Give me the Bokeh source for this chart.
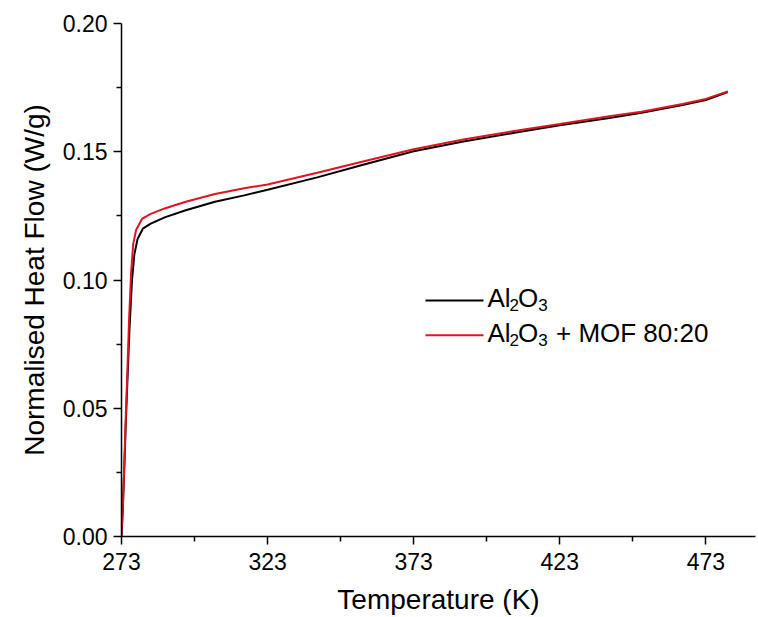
from bokeh.plotting import figure
from bokeh.models import FixedTicker, NumeralTickFormatter, Range1d, Label
from bokeh.embed import file_html
from bokeh.resources import INLINE

# Data
temp_al2o3 = [273.0, 273.5, 274.0, 274.5, 275.0, 275.7, 276.6, 277.4, 278.5, 280.3, 283.0,
              288.0, 295.0, 305.0, 315.0, 323.0, 340.0, 356.0, 373.0, 390.0, 408.0, 423.0,
              440.0, 451.0, 465.0, 473.0, 480.5]
hf_al2o3 = [0.000, 0.012, 0.028, 0.045, 0.060, 0.080, 0.100, 0.110, 0.1160, 0.1200, 0.1220,
            0.1245, 0.1272, 0.1305, 0.1330, 0.1352, 0.1400, 0.1450, 0.1502, 0.1540, 0.1575,
            0.1603, 0.1632, 0.1652, 0.1682, 0.1702, 0.1733]
temp_mof = [273.0, 273.5, 274.0, 274.5, 275.0, 275.6, 276.3, 277.0, 278.0, 280.0, 283.0,
            288.0, 295.0, 305.0, 315.0, 323.0, 340.0, 356.0, 373.0, 390.0, 408.0, 423.0,
            440.0, 451.0, 465.0, 473.0, 480.5]
hf_mof = [0.000, 0.013, 0.030, 0.048, 0.064, 0.085, 0.103, 0.114, 0.1195, 0.1238, 0.1258,
          0.1280, 0.1305, 0.1335, 0.1358, 0.1372, 0.1418, 0.1463, 0.1510, 0.1548, 0.1582,
          0.1608, 0.1638, 0.1656, 0.1686, 0.1706, 0.1735]

x_major = [273, 323, 373, 423, 473]
x_minor = [298, 348, 398, 448]
y_major = [0.00, 0.05, 0.10, 0.15, 0.20]
y_minor = [0.025, 0.075, 0.125, 0.175]
# legend text pieces: (text, is_subscript)
legend_al2o3 = [("Al", False), ("2", True), ("O", False), ("3", True)]
legend_mof = legend_al2o3 + [("+ MOF 80:20", False)]

FONT = "Liberation Sans"
W, H = 758, 617
BL, BR, BT, BB = 121, 3, 23, 79
X0, X1, Y0, Y1 = 273, 490, 0.0, 0.20
FW, FH = W - BL - BR, H - BT - BB


def px_to_x(px):
    return X0 + (px - BL) * (X1 - X0) / FW


def py_to_y(py):
    return Y0 + (H - BB - py) * (Y1 - Y0) / FH


p = figure(width=W, height=H, output_backend="svg", toolbar_location=None,
           x_range=Range1d(X0, X1), y_range=Range1d(Y0, Y1),
           min_border_left=BL, min_border_right=BR, min_border_top=BT, min_border_bottom=BB)
p.outline_line_color = None
p.grid.visible = False
p.background_fill_color = "white"
p.border_fill_color = "white"

p.line(temp_al2o3, hf_al2o3, line_color="black", line_width=2)
p.line(temp_mof, hf_mof, line_color="#e0141e", line_width=2)

p.xaxis.ticker = FixedTicker(ticks=x_major, minor_ticks=x_minor)
p.yaxis.ticker = FixedTicker(ticks=y_major, minor_ticks=y_minor)
p.yaxis.formatter = NumeralTickFormatter(format="0.00")

for ax in (p.xaxis, p.yaxis):
    ax.axis_line_width = 1.5
    ax.axis_line_color = "black"
    ax.major_tick_line_width = 1.5
    ax.minor_tick_line_width = 1.5
    ax.major_tick_in = 0
    ax.major_tick_out = 8
    ax.minor_tick_in = 0
    ax.minor_tick_out = 5
    ax.major_label_text_font = FONT
    ax.major_label_text_font_size = "23px"
    ax.major_label_text_color = "black"
    ax.axis_label_text_font = FONT
    ax.axis_label_text_font_size = "28px"
    ax.axis_label_text_font_style = "normal"
    ax.axis_label_text_color = "black"

p.xaxis.major_label_standoff = 8
p.yaxis.major_label_standoff = 6
p.xaxis.axis_label = "Temperature (K)"
p.yaxis.axis_label = "Normalised Heat Flow (W/g)"
p.xaxis.axis_label_standoff = 11
p.yaxis.axis_label_standoff = 10

# manual legend (to allow real subscripts)
MAIN, SUB = 26, 17
adv = {"Al": 0.889 * MAIN - 1, "O": 0.778 * MAIN, "2": 0.556 * SUB - 1, "3": 0.556 * SUB + 0.278 * MAIN + 1}
rows = [(legend_al2o3, "black", 301), (legend_mof, "#e0141e", 336)]
for pieces, color, cy in rows:
    p.line([px_to_x(425), px_to_x(483)], [py_to_y(cy), py_to_y(cy)],
           line_color=color, line_width=2)
    base = py_to_y(cy - 2)
    off = 0.0
    for txt, sub in pieces:
        p.add_layout(Label(x=px_to_x(487), y=base, x_offset=off, y_offset=-7 if sub else 0,
                           text=txt, text_font=FONT,
                           text_font_size=f"{SUB if sub else MAIN}px",
                           text_color="black", text_baseline="alphabetic",
                           text_align="left"))
        off += adv.get(txt, 0)

open("out.html", "w").write(file_html(p, INLINE))
